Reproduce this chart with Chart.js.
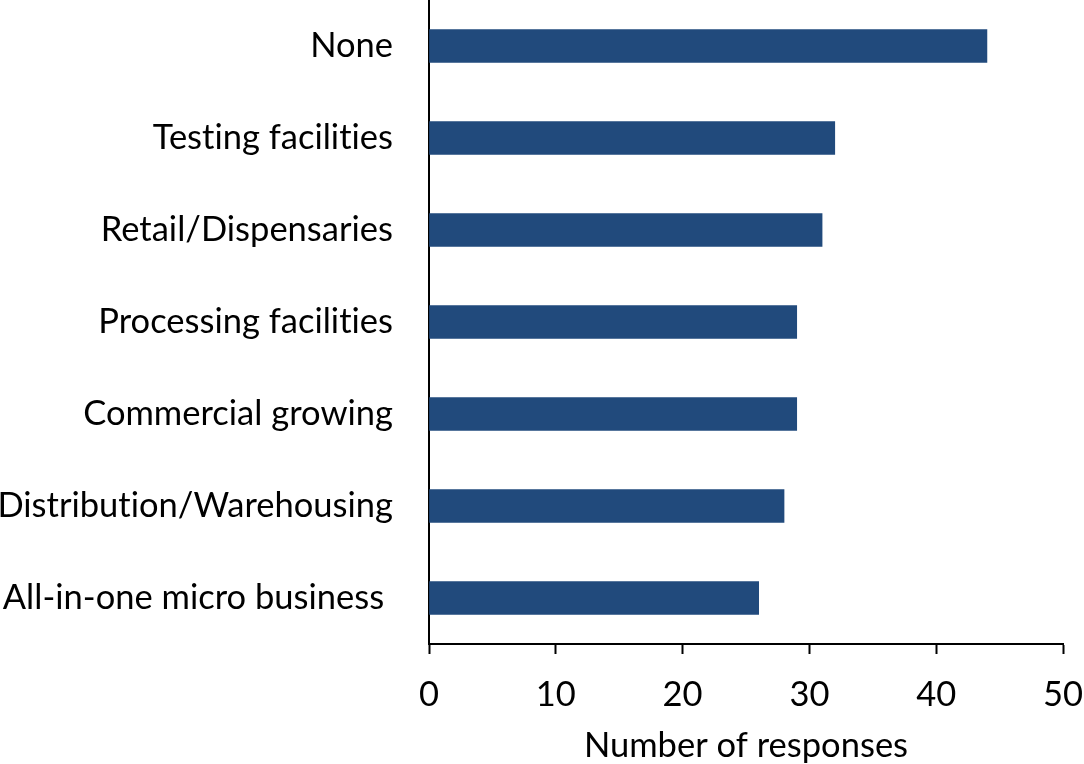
<!DOCTYPE html>
<html>
<head>
<meta charset="utf-8">
<script src="https://cdn.jsdelivr.net/npm/chart.js@4/dist/chart.umd.min.js"></script>
<style>
  html, body { margin: 0; padding: 0; background: #ffffff; }
  #wrap { width: 1084px; height: 764px; position: relative; }
</style>
</head>
<body>
<div id="wrap"><canvas id="c" width="1084" height="764"></canvas></div>
<script>
const categories = [
  "None",
  "Testing facilities",
  "Retail/Dispensaries",
  "Processing facilities",
  "Commercial growing",
  "Distribution/Warehousing",
  "All-in-one micro business "
];
const responses = [44, 32, 31, 29, 29, 28, 26];
const xTicks = [0, 10, 20, 30, 40, 50];

const FONT = "Lato, 'Open Sans', sans-serif";
const FS = 34.5;

const noLigatures = {
  id: "noLigatures",
  beforeDraw(chart) {
    try { chart.ctx.letterSpacing = "0.01px"; } catch (e) {}
  }
};

new Chart(document.getElementById("c"), {
  type: "bar",
  data: {
    labels: categories,
    datasets: [{
      data: responses,
      backgroundColor: "#214a7c",
      borderWidth: 0,
      barThickness: 33
    }]
  },
  plugins: [noLigatures],
  options: {
    indexAxis: "y",
    responsive: false,
    animation: false,
    layout: { padding: { top: 0, right: 21, bottom: 0, left: 0 } },
    plugins: { legend: { display: false }, tooltip: { enabled: false } },
    scales: {
      x: {
        min: 0, max: 50,
        afterBuildTicks: (s) => { s.ticks = xTicks.map(v => ({ value: v })); },
        grid: { display: true, drawOnChartArea: false, drawTicks: true, tickLength: 10, tickColor: "#000", tickWidth: 2 },
        border: { display: true, color: "#000", width: 2 },
        ticks: { color: "#000", font: { family: FONT, size: FS }, padding: 20, maxRotation: 0 },
        title: { display: true, text: "Number of responses", color: "#000", font: { family: FONT, size: FS, lineHeight: 1.05 }, padding: { top: 0, bottom: 0 } },
        afterFit: (s) => { s.height = 120; s.paddingLeft = 0; s.paddingRight = 0; }
      },
      y: {
        grid: { display: true, drawOnChartArea: false, drawTicks: false },
        border: { display: true, color: "#000", width: 2 },
        ticks: { color: "#000", font: { family: FONT, size: FS }, padding: 36 },
        afterFit: (s) => { s.width = 429; s.paddingTop = 0; s.paddingBottom = 0; }
      }
    }
  }
});
</script>
</body>
</html>
